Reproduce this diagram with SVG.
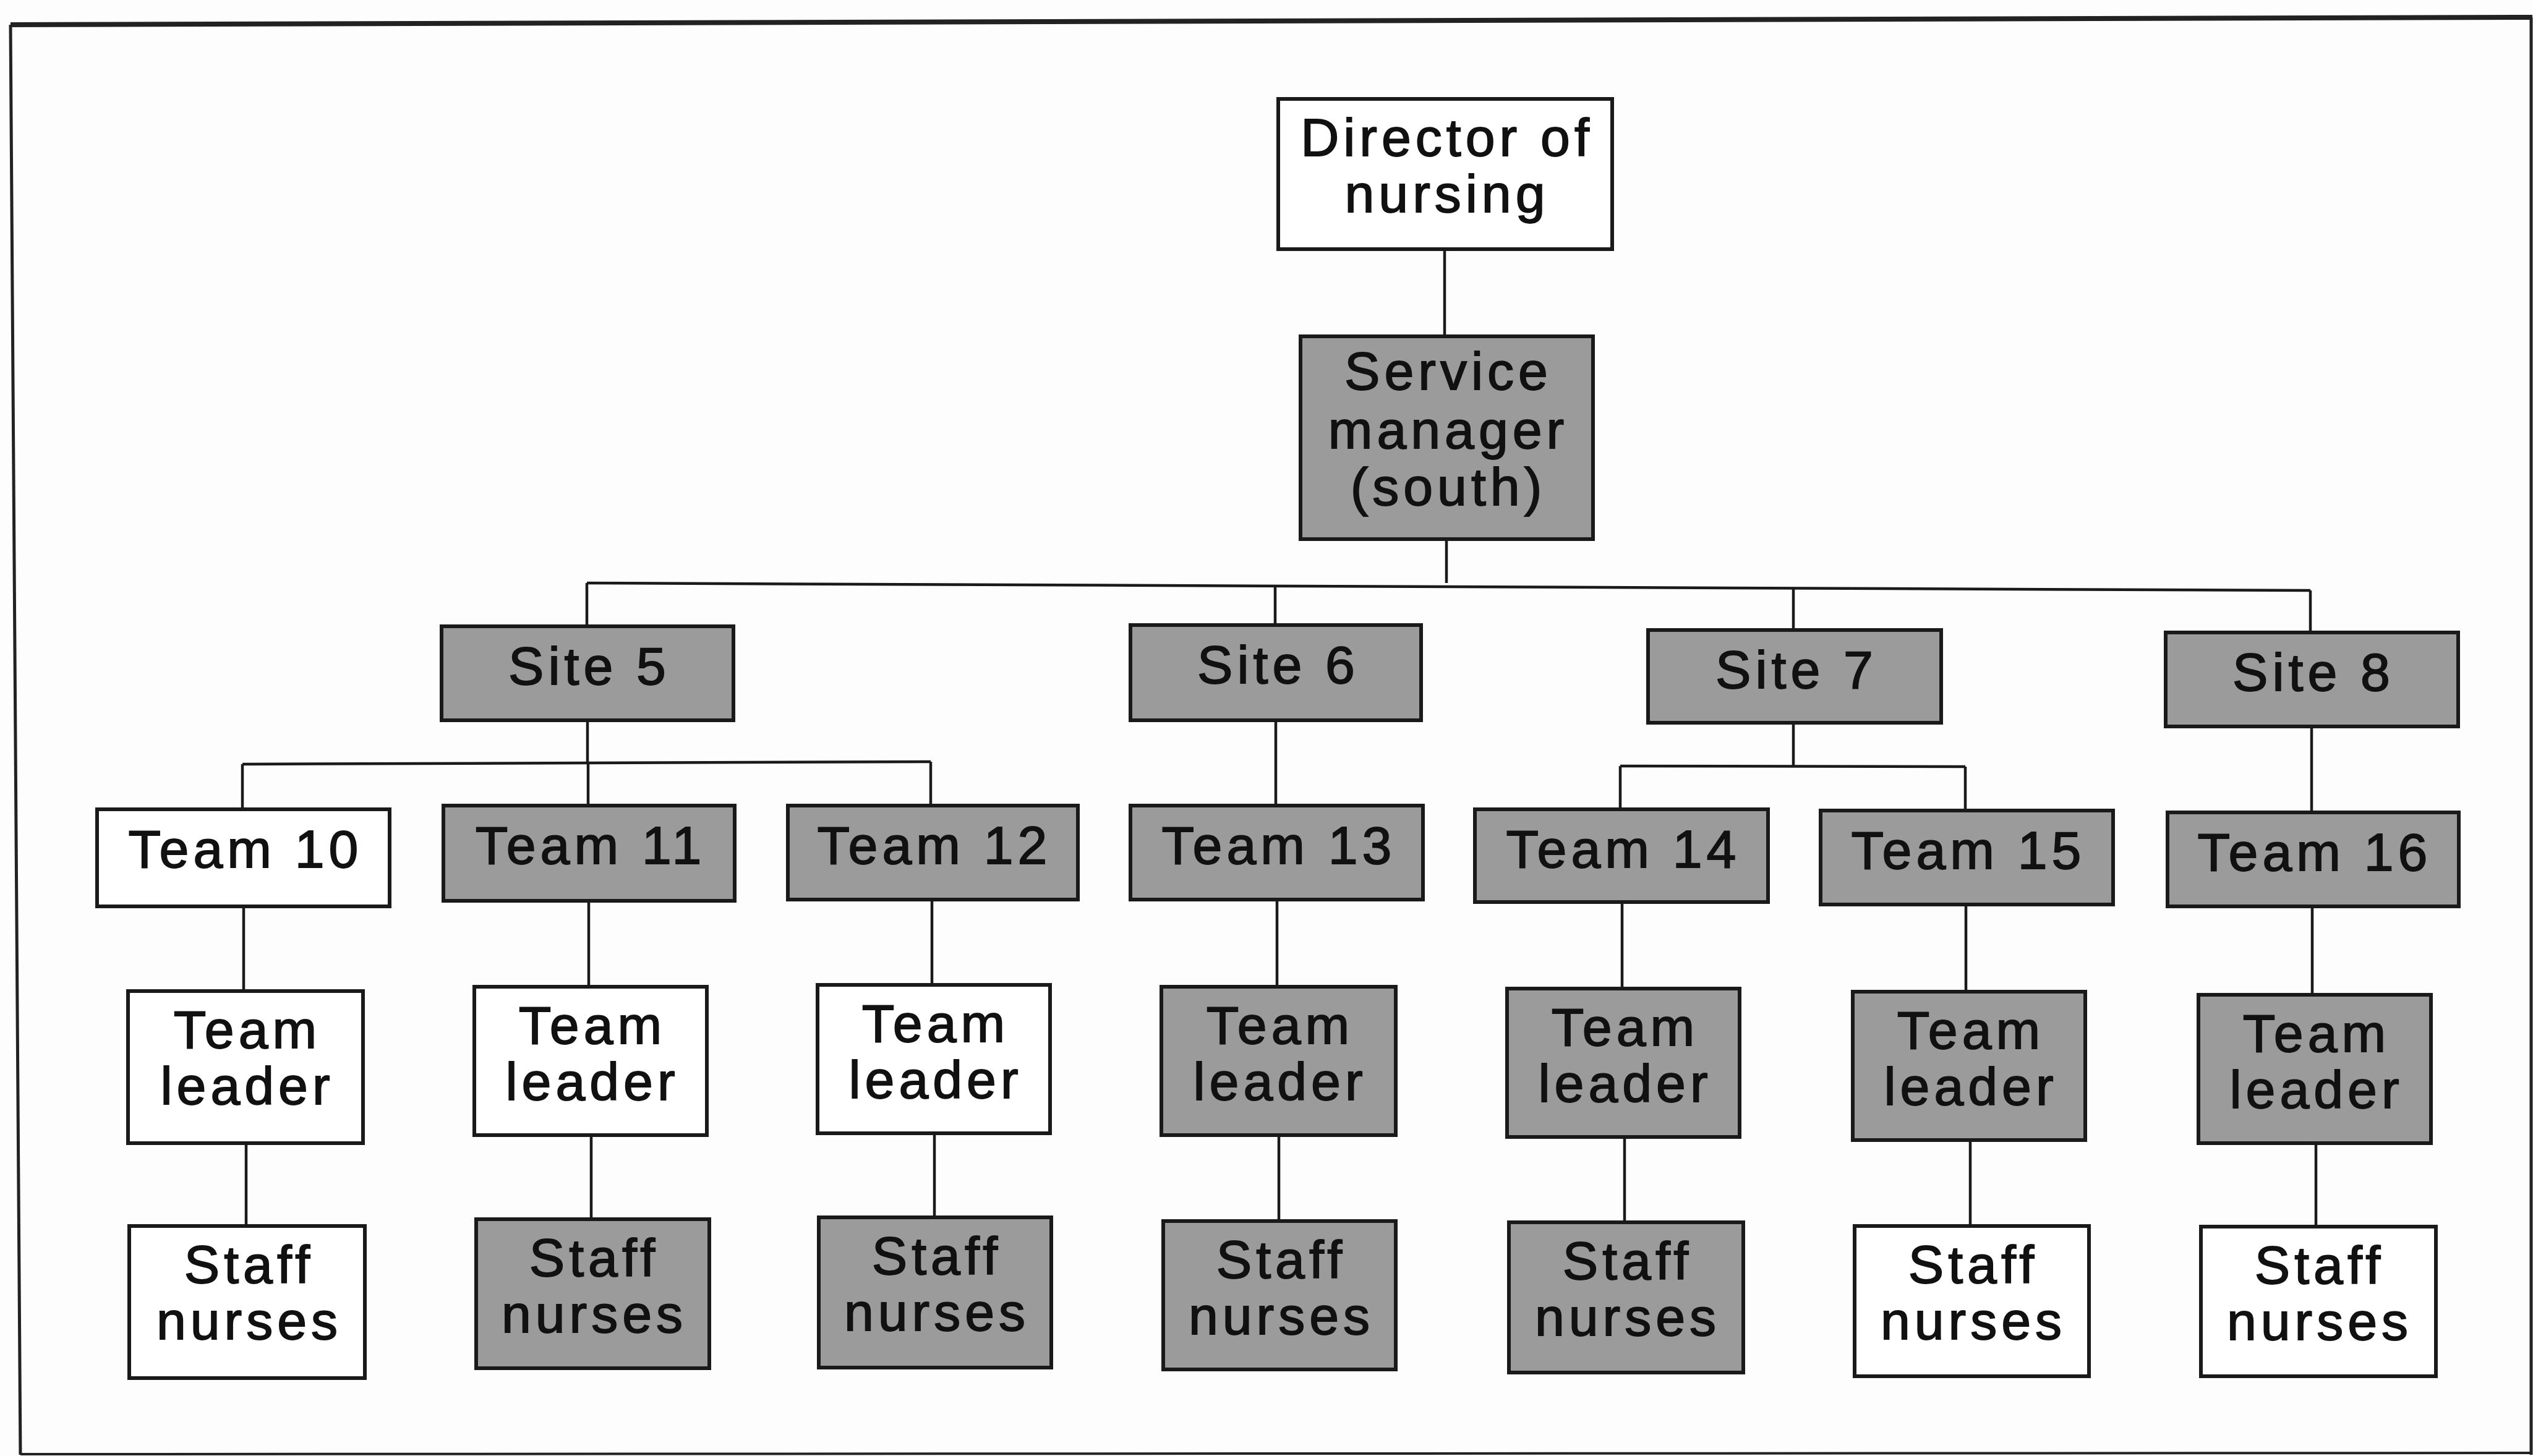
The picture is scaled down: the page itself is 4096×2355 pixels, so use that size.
<svg xmlns="http://www.w3.org/2000/svg" width="4096" height="2355" viewBox="0 0 4096 2355">
  <style>
    .box { stroke: #1a1a1a; stroke-width: 6; }
    .w { fill: #ffffff; }
    .g { fill: #9b9b9b; }
    .lbl { font-family: "Liberation Sans", Arial, Helvetica, sans-serif; font-size: 86px; letter-spacing: 7px; text-anchor: middle; fill: #111111; stroke: #111111; stroke-width: 1.8px; }
    .wire { fill: none; stroke: #1a1a1a; stroke-width: 4.5; }
  </style>
  <rect x="0" y="0" width="4096" height="2355" fill="#fdfdfd"/>

  <!-- outer frame -->
  <g id="frame" fill="none" stroke="#222222">
    <path d="M17 40 L4095 28" stroke-width="8"/>
    <path d="M17 40 L33 2353" stroke-width="5"/>
    <path d="M4093 28 L4093 2353" stroke-width="5"/>
    <path d="M33 2352 L4095 2350" stroke-width="4"/>
  </g>

  <!-- connectors -->
  <g id="connectors" class="wire">
    <path d="M2336 403 V544"/>
    <path d="M2339 872 V943"/>
    <path d="M949 943 L3736 955"/>
    <path d="M949 943 V1013"/>
    <path d="M2062 948 V1011"/>
    <path d="M2900 951 V1019"/>
    <path d="M3736 955 V1023"/>
    <!-- site 5 branch -->
    <path d="M950 1165 V1233"/>
    <path d="M392 1236 L1505 1232"/>
    <path d="M392 1236 V1309"/>
    <path d="M951 1233 V1303"/>
    <path d="M1505 1232 V1303"/>
    <!-- site 6 -->
    <path d="M2063 1165 V1303"/>
    <!-- site 7 branch -->
    <path d="M2900 1169 V1239"/>
    <path d="M2620 1239 L3178 1240"/>
    <path d="M2620 1239 V1309"/>
    <path d="M3178 1240 V1311"/>
    <!-- site 8 -->
    <path d="M3738 1175 V1314"/>
    <!-- team to team leader -->
    <path d="M394 1466 V1603"/>
    <path d="M952 1457 V1596"/>
    <path d="M1507 1455 V1593"/>
    <path d="M2065 1455 V1596"/>
    <path d="M2623 1459 V1599"/>
    <path d="M3179 1463 V1604"/>
    <path d="M3739 1466 V1609"/>
    <!-- team leader to staff nurses -->
    <path d="M398 1849 V1983"/>
    <path d="M956 1836 V1972"/>
    <path d="M1511 1833 V1969"/>
    <path d="M2068 1836 V1975"/>
    <path d="M2627 1839 V1977"/>
    <path d="M3186 1844 V1983"/>
    <path d="M3745 1849 V1984"/>
  </g>

  <!-- top levels -->
  <g id="director">
    <rect class="box w" x="2067" y="160" width="540" height="243"/>
    <text class="lbl" x="2340" y="252">Director of</text>
    <text class="lbl" x="2340" y="343">nursing</text>
  </g>
  <g id="service-manager">
    <rect class="box g" x="2103" y="544" width="473" height="328"/>
    <text class="lbl" x="2342" y="630">Service</text>
    <text class="lbl" x="2342" y="725">manager</text>
    <text class="lbl" x="2342" y="817">(south)</text>
  </g>

  <!-- sites -->
  <g id="site5"><rect class="box g" x="714" y="1013" width="472" height="152"/><text class="lbl" x="953" y="1107">Site 5</text></g>
  <g id="site6"><rect class="box g" x="1828" y="1011" width="470" height="154"/><text class="lbl" x="2067" y="1105">Site 6</text></g>
  <g id="site7"><rect class="box g" x="2665" y="1019" width="474" height="150"/><text class="lbl" x="2905" y="1113">Site 7</text></g>
  <g id="site8"><rect class="box g" x="3502" y="1023" width="473" height="152"/><text class="lbl" x="3741" y="1117">Site 8</text></g>

  <!-- teams -->
  <g id="team10"><rect class="box w" x="157" y="1309" width="473" height="157"/><text class="lbl" x="397" y="1403">Team 10</text></g>
  <g id="team11"><rect class="box g" x="717" y="1303" width="471" height="154"/><text class="lbl" x="955" y="1397">Team 11</text></g>
  <g id="team12"><rect class="box g" x="1274" y="1303" width="469" height="152"/><text class="lbl" x="1511" y="1397">Team 12</text></g>
  <g id="team13"><rect class="box g" x="1828" y="1303" width="473" height="152"/><text class="lbl" x="2068" y="1397">Team 13</text></g>
  <g id="team14"><rect class="box g" x="2385" y="1309" width="474" height="150"/><text class="lbl" x="2625" y="1403">Team 14</text></g>
  <g id="team15"><rect class="box g" x="2944" y="1311" width="473" height="152"/><text class="lbl" x="3183" y="1405">Team 15</text></g>
  <g id="team16"><rect class="box g" x="3505" y="1314" width="471" height="152"/><text class="lbl" x="3743" y="1408">Team 16</text></g>

  <!-- team leaders -->
  <g id="leader10"><rect class="box w" x="207" y="1603" width="380" height="246"/><text class="lbl" x="400" y="1695">Team</text><text class="lbl" x="400" y="1786">leader</text></g>
  <g id="leader11"><rect class="box w" x="767" y="1596" width="376" height="240"/><text class="lbl" x="958" y="1688">Team</text><text class="lbl" x="958" y="1779">leader</text></g>
  <g id="leader12"><rect class="box w" x="1322" y="1593" width="376" height="240"/><text class="lbl" x="1513" y="1685">Team</text><text class="lbl" x="1513" y="1776">leader</text></g>
  <g id="leader13"><rect class="box g" x="1878" y="1596" width="379" height="240"/><text class="lbl" x="2070" y="1688">Team</text><text class="lbl" x="2070" y="1779">leader</text></g>
  <g id="leader14"><rect class="box g" x="2437" y="1599" width="376" height="240"/><text class="lbl" x="2628" y="1691">Team</text><text class="lbl" x="2628" y="1782">leader</text></g>
  <g id="leader15"><rect class="box g" x="2996" y="1604" width="376" height="240"/><text class="lbl" x="3187" y="1696">Team</text><text class="lbl" x="3187" y="1787">leader</text></g>
  <g id="leader16"><rect class="box g" x="3555" y="1609" width="376" height="240"/><text class="lbl" x="3746" y="1701">Team</text><text class="lbl" x="3746" y="1792">leader</text></g>

  <!-- staff nurses -->
  <g id="nurses10"><rect class="box w" x="209" y="1983" width="381" height="246"/><text class="lbl" x="403" y="2075">Staff</text><text class="lbl" x="403" y="2166">nurses</text></g>
  <g id="nurses11"><rect class="box g" x="770" y="1972" width="377" height="241"/><text class="lbl" x="961" y="2064">Staff</text><text class="lbl" x="961" y="2155">nurses</text></g>
  <g id="nurses12"><rect class="box g" x="1324" y="1969" width="376" height="243"/><text class="lbl" x="1515" y="2061">Staff</text><text class="lbl" x="1515" y="2152">nurses</text></g>
  <g id="nurses13"><rect class="box g" x="1881" y="1975" width="376" height="240"/><text class="lbl" x="2072" y="2067">Staff</text><text class="lbl" x="2072" y="2158">nurses</text></g>
  <g id="nurses14"><rect class="box g" x="2440" y="1977" width="379" height="243"/><text class="lbl" x="2632" y="2069">Staff</text><text class="lbl" x="2632" y="2160">nurses</text></g>
  <g id="nurses15"><rect class="box w" x="2999" y="1983" width="379" height="243"/><text class="lbl" x="3191" y="2075">Staff</text><text class="lbl" x="3191" y="2166">nurses</text></g>
  <g id="nurses16"><rect class="box w" x="3559" y="1984" width="380" height="242"/><text class="lbl" x="3751" y="2076">Staff</text><text class="lbl" x="3751" y="2167">nurses</text></g>
</svg>
